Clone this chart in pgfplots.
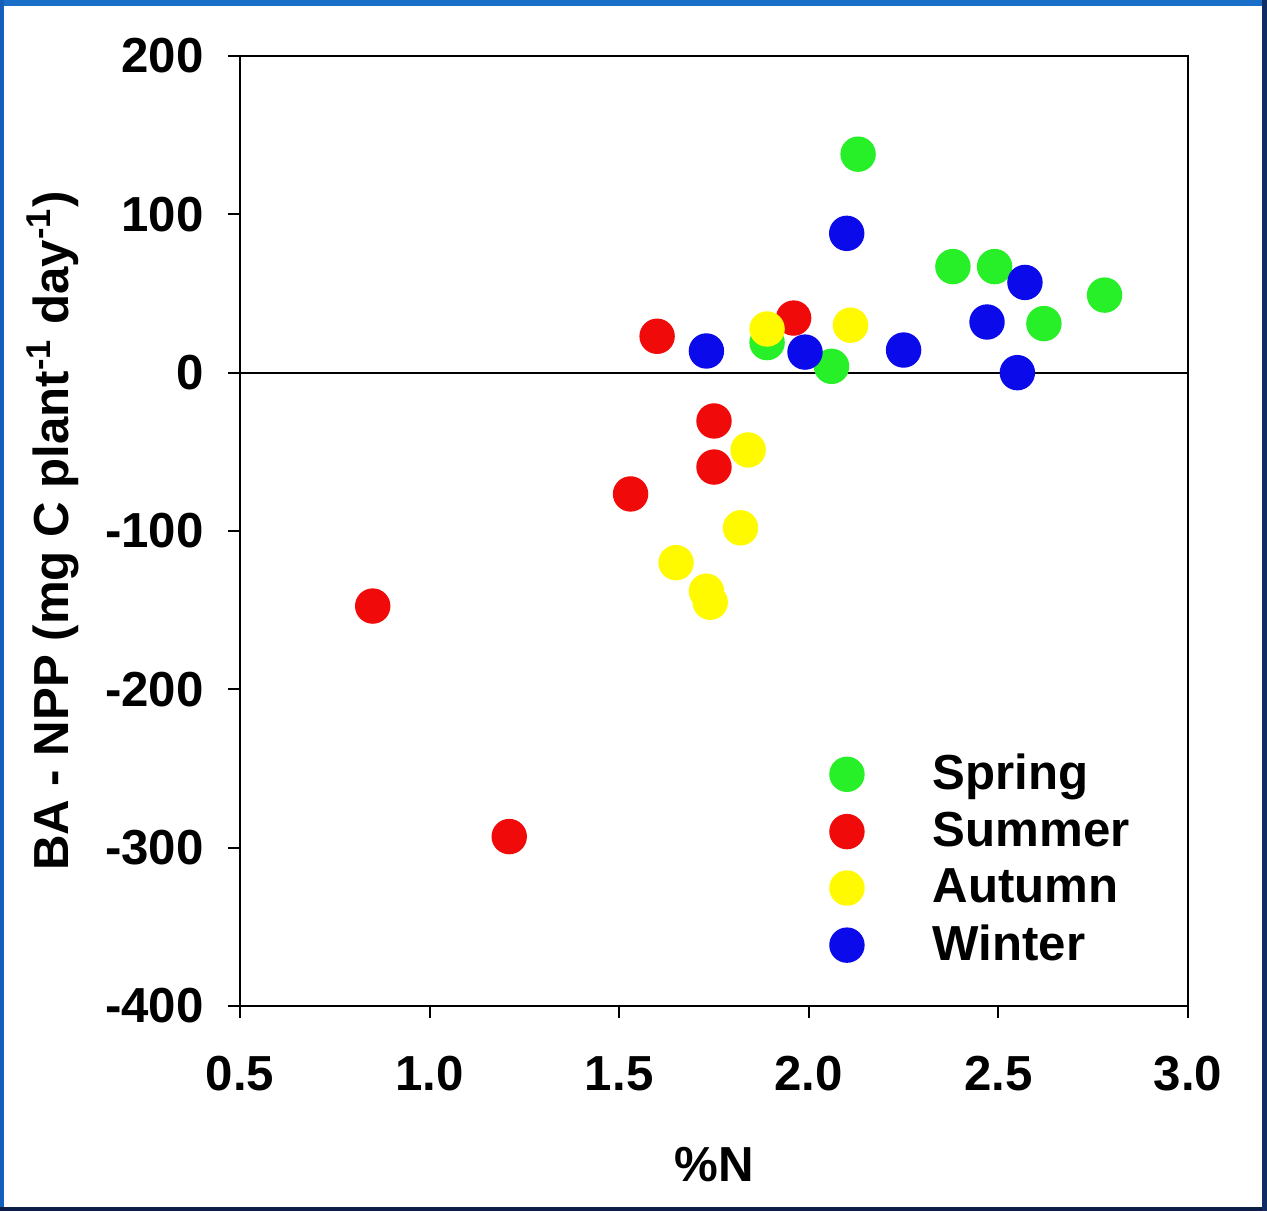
\documentclass[border=0pt]{standalone}
\usepackage{fontspec}
\setmainfont{Liberation Sans}
\usepackage{pgfplots}
\pgfplotsset{compat=1.18}
\definecolor{sgreen}{RGB}{40,240,40}
\definecolor{sred}{RGB}{240,10,10}
\definecolor{syellow}{RGB}{255,250,0}
\definecolor{sblue}{RGB}{10,10,235}
\begin{document}
\begin{tikzpicture}
\useasboundingbox (0,0) rectangle (12.67,12.11);
\fill[white] (0,0) rectangle (12.67,12.11);
\fill[color={rgb,255:red,25;green,110;blue,200}] (0,12.05) rectangle (12.67,12.11);
\fill[color={rgb,255:red,20;green,95;blue,185}] (0,0) rectangle (0.04,12.11);
\fill[color={rgb,255:red,12;green,30;blue,70}] (0,0) rectangle (12.67,0.045);
\fill[color={rgb,255:red,15;green,45;blue,100}] (12.62,0) rectangle (12.67,12.11);
\begin{axis}[
  at={(2.40cm,2.05cm)}, anchor=south west,
  scale only axis, width=9.48cm, height=9.50cm,
  xmin=0.5, xmax=3.0, ymin=-400, ymax=200,
  xtick={0.5,1.0,1.5,2.0,2.5,3.0},
  xticklabels={0.5,1.0,1.5,2.0,2.5,3.0},
  ytick={-400,-300,-200,-100,0,100,200},
  yticklabels={-400,-300,-200,-100,0,100,200},
  tick pos=left, tick align=outside,
  major tick length=0.12cm,
  axis line style={line width=0.6pt},
  every tick/.style={black, line width=0.6pt},
  ticklabel style={font=\fontsize{14}{16}\selectfont\bfseries},
  yticklabel style={xshift=-0.12cm},
  xticklabel style={yshift=-0.26cm},
  xlabel={\%N},
  ylabel={BA - NPP (mg C plant\textsuperscript{-1} day\textsuperscript{-1})},
  label style={font=\fontsize{14}{16}\selectfont\bfseries},
  xlabel style={yshift=-0.32cm},
  ylabel style={yshift=0.02cm},
  legend style={draw=none, fill=none, at={(0.596,0.281)}, anchor=north west,
    font=\fontsize{14}{16}\selectfont\bfseries, row sep=0.03cm},
  legend cell align=left,
  legend image code/.code={\path (0cm,0cm) (1.08cm,0cm); \draw[mark repeat=2,mark phase=2,#1] plot coordinates {(0cm,0cm) (0.3cm,0cm) (0.6cm,0cm)};},
]
\addplot[black, line width=0.6pt, forget plot] coordinates {(0.5,0) (3.0,0)};
\addplot[only marks, mark=*, mark size=0.17cm, color=sgreen] coordinates {
(2.13,138) (2.38,67) (2.49,67) (2.78,49) (2.62,31) (1.89,19) (2.06,4)};
\addlegendentry{Spring}
\addplot[only marks, mark=*, mark size=0.17cm, color=sred] coordinates {
(1.60,23) (1.96,34.5) (1.75,-30.5) (1.75,-59.6) (1.53,-76.6) (0.85,-147.4) (1.21,-293)};
\addlegendentry{Summer}
\addplot[only marks, mark=*, mark size=0.17cm, color=syellow] coordinates {
(1.89,27.6) (2.11,30) (1.84,-48.8) (1.82,-98) (1.65,-120) (1.73,-138) (1.74,-145)};
\addlegendentry{Autumn}
\addplot[only marks, mark=*, mark size=0.17cm, color=sblue] coordinates {
(2.10,88) (2.57,57) (2.47,32) (1.73,13.7) (1.99,13) (2.25,14.3) (2.55,0)};
\addlegendentry{Winter}
\end{axis}
\end{tikzpicture}
\end{document}
